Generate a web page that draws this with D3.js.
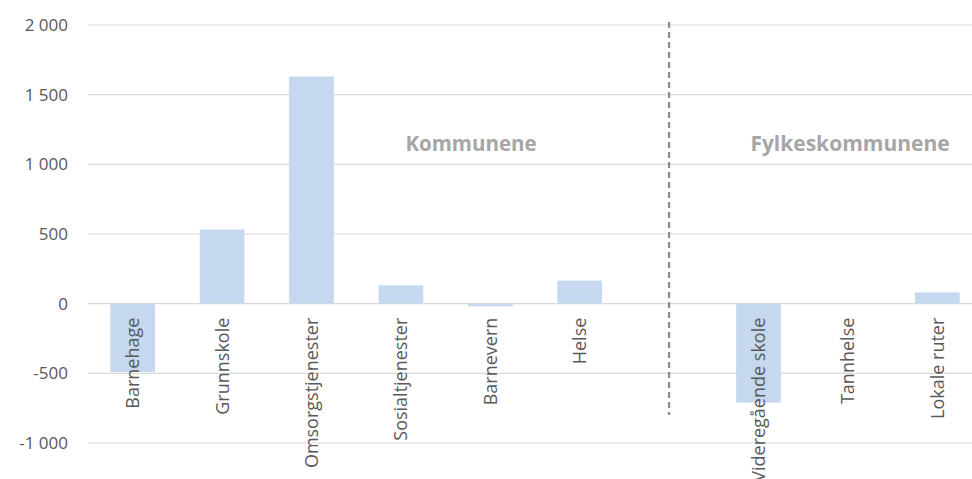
<!DOCTYPE html>
<html><head><meta charset="utf-8">
<script src="https://cdn.jsdelivr.net/npm/d3@7"></script>
<style>body{margin:0;background:#fff}svg{display:block}</style>
</head><body>
<svg id="c" width="972" height="479"></svg>
<script>
const categories = ["Barnehage","Grunnskole","Omsorgstjenester","Sosialtjenester","Barnevern","Helse","","Videregående skole","Tannhelse","Lokale ruter"];
const values = [-490, 532, 1630, 132, -19, 165, null, -710, 0, 81];
const yTicks = [-1000, -500, 0, 500, 1000, 1500, 2000];
const groupLabels = ["Kommunene", "Fylkeskommunene"];

const svg = d3.select("#c");
const x = d3.scaleBand().domain(categories.map((c,i)=>i)).range([88, 982]).paddingInner(0.5).paddingOuter(0.25);
const y = d3.scaleLinear().domain([-1000, 2000]).range([443, 25]);
const fmt = v => (v < 0 ? "-" : "") + d3.format(",")(Math.abs(v)).replace(/,/g, " ");

// gridlines
svg.append("g").selectAll("line").data(yTicks).join("line")
  .attr("x1", 88).attr("x2", 972)
  .attr("y1", d=>y(d)).attr("y2", d=>y(d))
  .attr("stroke", "#d9d9d9").attr("stroke-width", 1.2);

// y labels
svg.append("g").selectAll("text").data(yTicks).join("text")
  .attr("x", 68).attr("y", d=>y(d)).attr("dy", "0.35em")
  .attr("text-anchor", "end")
  .attr("font-family", "Open Sans, sans-serif").attr("font-size", 17)
  .attr("fill", "#595959")
  .text(fmt);

// bars
svg.append("g").selectAll("rect").data(values.map((v,i)=>({v,i})).filter(d=>d.v!==null && d.v!==0)).join("rect")
  .attr("x", d=>x(d.i)).attr("width", x.bandwidth())
  .attr("y", d=>y(Math.max(0,d.v))).attr("height", d=>Math.abs(y(d.v)-y(0)))
  .attr("fill", "#c5d8f0");

// category labels
svg.append("g").selectAll("text").data(categories.map((c,i)=>({c,i})).filter(d=>d.c)).join("text")
  .attr("transform", d=>`translate(${x(d.i)+x.bandwidth()/2+6.5},${y(0)+14}) rotate(-90)`)
  .attr("text-anchor", "end")
  .attr("font-family", "Open Sans, sans-serif").attr("font-size", 18)
  .attr("fill", "#595959")
  .text(d=>d.c);

// dashed divider
const xd = x(6) + x.bandwidth()/2;
svg.append("line").attr("x1", xd).attr("x2", xd).attr("y1", 22).attr("y2", 415)
  .attr("stroke", "#8c8c8c").attr("stroke-width", 2.2).attr("stroke-dasharray", "6,4");

// group labels
svg.append("text").attr("x", 471).attr("y", 151).attr("text-anchor","middle")
  .attr("font-family", "Open Sans, sans-serif").attr("font-size", 20.5).attr("font-weight", "bold")
  .attr("fill", "#a6a6a6").text(groupLabels[0]);
svg.append("text").attr("x", 850).attr("y", 151).attr("text-anchor","middle")
  .attr("font-family", "Open Sans, sans-serif").attr("font-size", 21).attr("font-weight", "bold")
  .attr("fill", "#a6a6a6").text(groupLabels[1]);
</script>
</body></html>
